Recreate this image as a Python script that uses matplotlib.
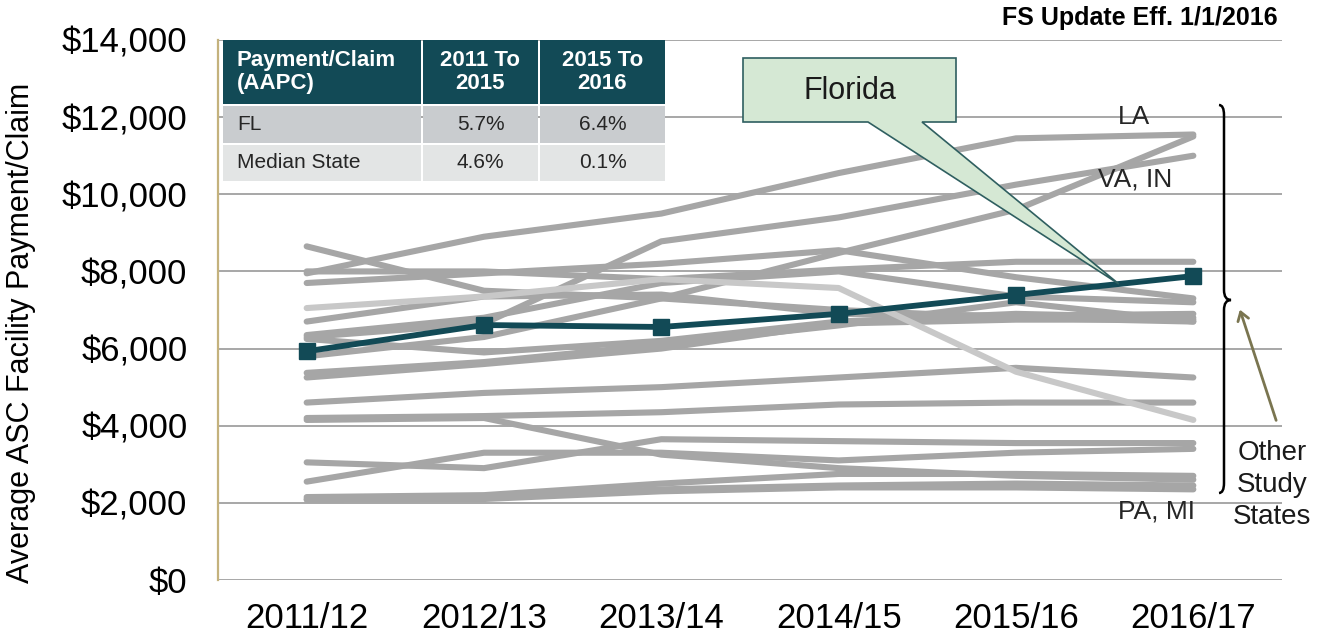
import matplotlib
matplotlib.use('Agg')
import matplotlib.pyplot as plt
from matplotlib.patches import Rectangle, Polygon, PathPatch, FancyArrowPatch
from matplotlib.path import Path

plt.rcParams['font.family'] = ['Liberation Sans', 'DejaVu Sans']

# Datos
years = ['2011/12', '2012/13', '2013/14', '2014/15', '2015/16', '2016/17']
florida = [5930, 6610, 6560, 6900, 7390, 7880]

other_states = [
    [7950, 8900, 9500, 10550, 11450, 11550],
    [6300, 6650, 8780, 9400, 10250, 11000],
    [5800, 6300, 7300, 8480, 9600, 11500],
    [8650, 7500, 7300, 7000, 6800, 6700],
    [8000, 8000, 7800, 8050, 8250, 8250],
    [7700, 7950, 8200, 8550, 7850, 7300],
    [6700, 7350, 7400, 6900, 6850, 6900],
    [6350, 6800, 7700, 8000, 7350, 7200],
    [6250, 5900, 6200, 6700, 6900, 6800],
    [5370, 5650, 6100, 6600, 7200, 6700],
    [5250, 5600, 6000, 6650, 6750, 6750],
    [4600, 4850, 5000, 5250, 5500, 5250],
    [4200, 4250, 4350, 4550, 4600, 4600],
    [4150, 4200, 3250, 2900, 2700, 2600],
    [3050, 2900, 3650, 3600, 3550, 3550],
    [2550, 3300, 3300, 3100, 3300, 3400],
    [2150, 2200, 2500, 2750, 2750, 2700],
    [2100, 2150, 2350, 2450, 2500, 2450],
    [2080, 2100, 2300, 2400, 2400, 2350],
]
light_state = [7050, 7350, 7800, 7570, 5400, 4150]

table_header = ['Payment/Claim\n(AAPC)', '2011 To\n2015', '2015 To\n2016']
table_rows = [['FL', '5.7%', '6.4%'],
              ['Median State', '4.6%', '0.1%']]

W, H = 1328, 642
def fx(x):
    return x / W
def fy(y):
    return 1 - y / H

fig = plt.figure(figsize=(W / 100, H / 100), dpi=100)
ax = fig.add_axes([fx(218), fy(580), (1282 - 218) / W, (580 - 40) / H])

x = list(range(len(years)))
for s in other_states:
    ax.plot(x, s, color='#A6A6A6', lw=4.4, solid_capstyle='round', solid_joinstyle='round', zorder=2)
ax.plot(x, light_state, color='#C8C8C8', lw=4.4, solid_capstyle='round', zorder=2)
ax.plot(x, florida, color='#124A56', lw=4.2, marker='s', ms=12, zorder=4)

ax.set_xlim(-0.5, 5.5)
ax.set_ylim(0, 14000)
ax.set_yticks(range(0, 14001, 2000))
ax.set_yticklabels(['${:,}'.format(v) for v in range(0, 14001, 2000)], fontsize=25)
ax.set_xticks(x)
ax.set_xticklabels(years, fontsize=25)
ax.tick_params(axis='x', length=0, pad=16)
ax.tick_params(axis='y', length=0, pad=22)
ax.yaxis.grid(True, color='#A0A0A0', lw=1.3)
ax.set_axisbelow(True)
for sp in ['top', 'right', 'bottom']:
    ax.spines[sp].set_visible(False)
ax.spines['left'].set_color('#C4B27D')
ax.spines['left'].set_linewidth(1.6)
ax.set_ylabel('Average ASC Facility Payment/Claim', fontsize=22)
ax.yaxis.set_label_coords((36 - 218) / 1064, (580 - 333) / 540)

# linea vertical de la actualizacion
ax.annotate('', xy=(4.5, 14080), xytext=(4.5, 0),
            arrowprops=dict(arrowstyle='-|>,head_length=0.6,head_width=0.3', color='#8C8C8C',
                            lw=2, linestyle=(0, (4, 3)), shrinkA=0, shrinkB=0), zorder=3)
fig.text(fx(1278), fy(18), 'FS Update Eff. 1/1/2016', ha='right', va='center', fontsize=18,
         fontweight='bold')

# tabla
cols = [(223, 421), (423, 538), (540, 665)]
rowsY = [(40, 104), (106, 143), (145, 181)]
colors = ['#124A56', '#C9CCCF', '#E3E5E5']
for r, (y0, y1) in enumerate(rowsY):
    for c, (x0, x1) in enumerate(cols):
        fig.add_artist(Rectangle((fx(x0), fy(y1)), (x1 - x0) / W, (y1 - y0) / H,
                                 transform=fig.transFigure, color=colors[r], lw=0))
        txt = table_header[c] if r == 0 else table_rows[r - 1][c]
        tx = fx(237) if c == 0 else fx((x0 + x1) / 2)
        fig.text(tx, fy((y0 + y1) / 2), txt, ha='left' if c == 0 else 'center', va='center',
                 fontsize=16 if r == 0 else 15, color='white' if r == 0 else '#262626',
                 fontweight='bold' if r == 0 else 'normal', linespacing=1.1)

# globo de Florida
tipX, tipY = 4.58, florida[4] + (florida[5] - florida[4]) * 0.58
tip = fig.transFigure.inverted().transform(ax.transData.transform((tipX, tipY)))
pts = [(743, 58), (956, 58), (956, 122), (922, 122)]
pts = [(fx(a), fy(b)) for a, b in pts] + [tuple(tip)] + [(fx(868), fy(122)), (fx(743), fy(122))]
fig.add_artist(Polygon(pts, closed=True, transform=fig.transFigure, facecolor='#D5E8D4',
                       edgecolor='#2F5F60', lw=1.2, zorder=5))
fig.text(fx(850), fy(91), 'Florida', ha='center', va='center', fontsize=22, color='#1a1a1a', zorder=6)

# etiquetas a la derecha
fig.text(fx(1118), fy(117), 'LA', ha='left', va='center', fontsize=19, color='#262626')
fig.text(fx(1098), fy(180), 'VA, IN', ha='left', va='center', fontsize=19, color='#262626')
fig.text(fx(1118), fy(512), 'PA, MI', ha='left', va='center', fontsize=19, color='#262626')
fig.text(fx(1272), fy(485), 'Other\nStudy\nStates', ha='center', va='center', fontsize=20,
         linespacing=1.3, color='#1a1a1a')

# llave
verts = [(1219, 105), (1224, 105), (1224, 115), (1224, 290), (1224, 300), (1231, 300),
         (1224, 300), (1224, 310), (1224, 483), (1224, 493), (1219, 493)]
codes = [Path.MOVETO, Path.CURVE3, Path.CURVE3, Path.LINETO, Path.CURVE3, Path.CURVE3,
         Path.CURVE3, Path.CURVE3, Path.LINETO, Path.CURVE3, Path.CURVE3]
brace = Path([(fx(a), fy(b)) for a, b in verts], codes)
fig.add_artist(PathPatch(brace, transform=fig.transFigure, facecolor='none', edgecolor='black', lw=1.8))

fig.add_artist(FancyArrowPatch((fx(1277), fy(423)), (fx(1239), fy(307)),
               transform=fig.transFigure, arrowstyle='->,head_length=6,head_width=4',
               color='#7A7550', lw=2))

fig.savefig('out.png', dpi=100)
